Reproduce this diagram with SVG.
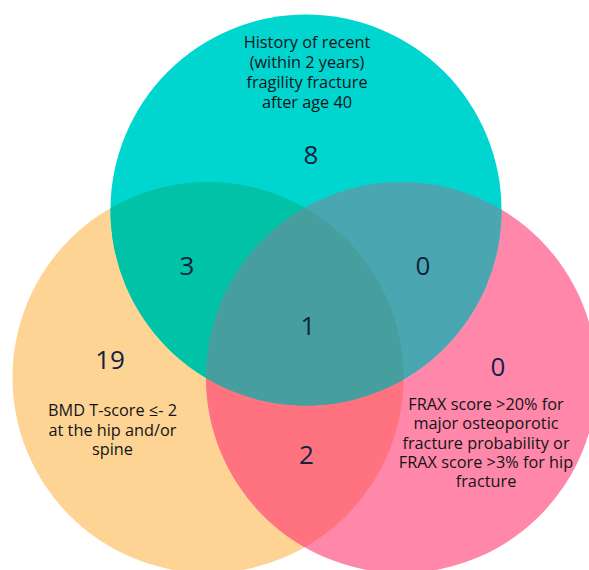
<svg xmlns="http://www.w3.org/2000/svg" width="589" height="570" viewBox="0 0 589 570">
  <defs>
    <clipPath id="clipL"><circle cx="208" cy="377.5" r="195.5"/></clipPath>
    <clipPath id="clipR"><circle cx="401.5" cy="377.5" r="195.5"/></clipPath>
    <style>
      .lbl { font-family: "Open Sans", "Liberation Sans", sans-serif; font-size: 16.3px; fill: #121417; text-anchor: middle; }
      .num { font-family: "Open Sans", "Liberation Sans", sans-serif; font-size: 26px; fill: #112340; text-anchor: middle; }
    </style>
  </defs>
  <rect width="589" height="570" fill="#ffffff"/>
  <g id="set-bmd">
    <circle cx="208" cy="377.5" r="195.5" fill="#FDD494"/>
  </g>
  <g id="set-frax">
    <circle cx="401.5" cy="377.5" r="195.5" fill="#FF88AA"/>
  </g>
  <g id="set-fracture">
    <circle cx="306" cy="210" r="195.5" fill="#00D5D0"/>
  </g>
  <g id="overlaps">
    <circle cx="401.5" cy="377.5" r="195.5" fill="#FF727F" clip-path="url(#clipL)"/>
    <circle cx="306" cy="210" r="195.5" fill="#00C2A6" clip-path="url(#clipL)"/>
    <circle cx="306" cy="210" r="195.5" fill="#4AA6B1" clip-path="url(#clipR)"/>
    <g clip-path="url(#clipR)">
      <circle cx="306" cy="210" r="195.5" fill="#469F9E" clip-path="url(#clipL)"/>
    </g>
  </g>
  <g id="label-fracture">
    <text class="lbl" x="307" y="47.5">History of recent</text>
    <text class="lbl" x="307" y="67.5">(within 2 years)</text>
    <text class="lbl" x="307" y="87.5">fragility fracture</text>
    <text class="lbl" x="307" y="107.5">after age 40</text>
  </g>
  <g id="label-bmd">
    <text class="lbl" x="112.5" y="416">BMD T-score ≤- 2</text>
    <text class="lbl" x="112.5" y="436">at the hip and/or</text>
    <text class="lbl" x="112.5" y="455">spine</text>
  </g>
  <g id="label-frax">
    <text class="lbl" x="486" y="410">FRAX score &gt;20% for</text>
    <text class="lbl" x="486" y="429.3">major osteoporotic</text>
    <text class="lbl" x="486" y="448.6">fracture probability or</text>
    <text class="lbl" x="486" y="467.9">FRAX score &gt;3% for hip</text>
    <text class="lbl" x="486" y="487.2">fracture</text>
  </g>
  <g id="counts">
    <text class="num" x="311" y="164">8</text>
    <text class="num" x="187" y="275">3</text>
    <text class="num" x="423" y="275">0</text>
    <text class="num" x="308" y="335">1</text>
    <text class="num" x="110" y="369">19</text>
    <text class="num" x="498" y="376">0</text>
    <text class="num" x="306.5" y="464">2</text>
  </g>
</svg>
